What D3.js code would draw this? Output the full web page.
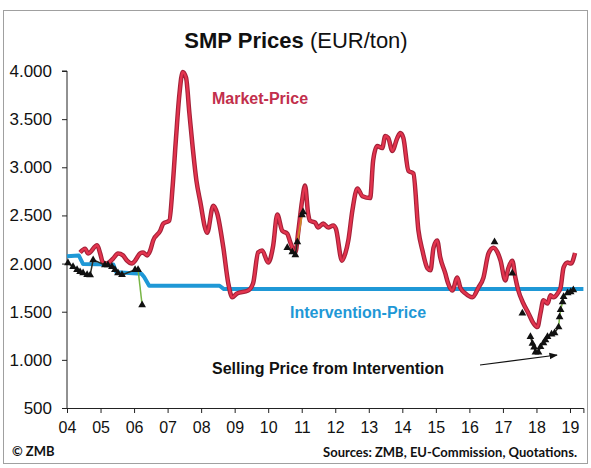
<!DOCTYPE html>
<html>
<head>
<meta charset="utf-8">
<script src="https://cdn.jsdelivr.net/npm/d3@7"></script>
<style>
  body { margin: 0; background: #fff; }
  svg { display: block; font-family: "Liberation Sans", Arial, sans-serif; }
</style>
</head>
<body>
<div class="chart"></div>
<script>
// DATA ------
const yearTicks = [2004, 2005, 2006, 2007, 2008, 2009, 2010, 2011, 2012, 2013, 2014, 2015, 2016, 2017, 2018, 2019];
const priceTicks = [500, 1000, 1500, 2000, 2500, 3000, 3500, 4000];

// market price (EUR/ton)
const marketYears = [2004.39, 2004.54, 2004.63, 2004.90, 2004.99, 2005.07, 2005.19, 2005.37, 2005.52, 2005.67, 2005.79, 2005.94,
  2006.03, 2006.18, 2006.27, 2006.39, 2006.48, 2006.57, 2006.78, 2006.87, 2007.05, 2007.15, 2007.25, 2007.35, 2007.45,
  2007.55, 2007.65, 2007.75, 2007.86, 2007.97, 2008.18, 2008.36, 2008.48, 2008.66, 2008.81, 2008.93, 2009.07, 2009.40,
  2009.55, 2009.70, 2009.82, 2010.00, 2010.15, 2010.27, 2010.42, 2010.57, 2010.66, 2010.81, 2010.90, 2011.01, 2011.10,
  2011.19, 2011.25, 2011.40, 2011.49, 2011.64, 2011.79, 2011.94, 2012.02, 2012.20, 2012.30, 2012.39, 2012.51, 2012.66,
  2012.81, 2013.04, 2013.13, 2013.25, 2013.40, 2013.49, 2013.58, 2013.70, 2013.85, 2013.94, 2014.03, 2014.18, 2014.33,
  2014.48, 2014.60, 2014.75, 2014.84, 2014.93, 2015.04, 2015.13, 2015.28, 2015.36, 2015.49, 2015.64, 2015.73, 2015.88,
  2016.09, 2016.27, 2016.42, 2016.57, 2016.72, 2016.84, 2016.93, 2017.07, 2017.16, 2017.28, 2017.37, 2017.46, 2017.61,
  2017.76, 2017.91, 2018.03, 2018.12, 2018.21, 2018.33, 2018.42, 2018.51, 2018.63, 2018.72, 2018.81, 2018.93, 2019.03, 2019.15];
const marketPrice = [2115, 2155, 2105, 2190, 2105, 2010, 2000, 2050, 2105, 2085, 2030, 2000,
  2030, 2105, 2115, 2085, 2135, 2240, 2340, 2415, 2445, 2800, 3300, 3750, 3990,
  3930, 3560, 3200, 2860, 2650, 2320, 2600, 2520, 2170, 1795, 1650, 1690, 1720,
  1795, 2115, 2135, 2010, 2190, 2510, 2340, 2310, 2220, 2115, 2340, 2650, 2810,
  2520, 2445, 2425, 2375, 2415, 2375, 2395, 2360, 2030, 2105, 2240, 2550, 2780,
  2700, 2680, 3070, 3220, 3200, 3325, 3305, 3170, 3305, 3355, 3305, 2965, 2935,
  2345, 2135, 1950, 1930, 2165, 2240, 2065, 1900, 1800, 1720, 1855, 1750, 1690,
  1650, 1750, 1855, 2105, 2165, 2115, 2030, 1825, 1950, 2030, 1855, 1720, 1585,
  1485, 1380, 1340, 1485, 1620, 1585, 1670, 1650, 1690, 1750, 1960, 2010, 2000, 2110];

// intervention price (EUR/ton)
const interventionYears = [2004.0, 2004.35, 2004.48, 2005.38, 2005.47, 2006.22, 2006.30, 2006.45, 2008.55, 2008.68, 2019.4];
const interventionPrice = [2075, 2085, 1995, 1990, 1910, 1895, 1860, 1770, 1770, 1735, 1735];

// selling price from intervention (triangles)
const sellEarlyYears = [2004.03, 2004.18, 2004.30, 2004.39, 2004.48, 2004.60, 2004.69, 2004.78, 2005.13, 2005.22, 2005.34,
  2005.43, 2005.52, 2005.64, 2006.03, 2006.12, 2006.24];
const sellEarlyPrice = [2005, 1966, 1935, 1914, 1903, 1883, 1880, 2038, 1986, 1986, 1966,
  1935, 1903, 1883, 1935, 1935, 1570];
const sell2011Years = [2010.57, 2010.72, 2010.81, 2010.87, 2011.01, 2011.04];
const sell2011Price = [2165, 2120, 2090, 2225, 2505, 2535];
const sell2017Years = [2016.75, 2017.28, 2017.58];
const sell2017Price = [2225, 1900, 1485];
const sell2018Years = [2017.82, 2017.88, 2017.93, 2017.97, 2018.06, 2018.12, 2018.21, 2018.27, 2018.33, 2018.45, 2018.54,
  2018.66, 2018.69, 2018.72, 2018.78, 2018.81, 2018.93, 2019.02, 2019.10];
const sell2018Price = [1240, 1170, 1130, 1080, 1080, 1135, 1175, 1205, 1240, 1265, 1280,
  1340, 1445, 1520, 1600, 1655, 1695, 1705, 1725];

const zip = (xs, vs) => xs.map((d, i) => ({year: d, value: vs[i]}));

// CHART ------
const width = 591, height = 468;
const svg = d3.select('.chart')
  .append('svg')
  .attr('width', width)
  .attr('height', height);

// frame
svg.append('rect')
  .attr('x', 3.5).attr('y', 10.5)
  .attr('width', 584).attr('height', 453)
  .attr('fill', 'none')
  .attr('stroke', '#a0a0a0');

const x = d3.scaleLinear().domain([2004, 2019.4]).range([67, 583.4]);
const y = d3.scaleLinear().domain([500, 4000]).range([408, 71]);

const deFormat = d3.formatLocale({decimal: ',', thousands: '.', grouping: [3], currency: ['', '€']}).format(',');

const xAxis = d3.axisBottom(x)
  .tickValues(yearTicks)
  .tickFormat(d => String(d).slice(2))
  .tickSize(5)
  .tickPadding(9);

const yAxis = d3.axisLeft(y)
  .tickValues(priceTicks)
  .tickFormat(deFormat)
  .tickSize(5)
  .tickPadding(10);

const gx = svg.append('g')
  .attr('class', 'axis x-axis')
  .attr('transform', `translate(0, ${y(500)})`)
  .call(xAxis);
gx.attr('font-size', 16).attr('font-family', null);

const gy = svg.append('g')
  .attr('class', 'axis y-axis')
  .attr('transform', `translate(${x(2004)}, 0)`)
  .call(yAxis);
gy.attr('font-size', 17).attr('font-family', null);
gy.select('.domain').attr('d', `M-5,${y(4000)}H0V${y(500)}`);

svg.selectAll('.axis path, .axis line').attr('stroke', '#222').attr('stroke-width', 1);
svg.selectAll('.axis text').attr('fill', '#111');

const line = d3.line()
  .x(d => x(d.year))
  .y(d => y(d.value));

// intervention price
svg.append('path')
  .datum(zip(interventionYears, interventionPrice))
  .attr('fill', 'none')
  .attr('stroke', '#1f98d6')
  .attr('stroke-width', 4)
  .attr('stroke-linejoin', 'round')
  .attr('d', line);

// market price, dark edge + bright core
const smooth = d3.line()
  .x(d => x(d.year))
  .y(d => y(d.value))
  .curve(d3.curveMonotoneX);
const market = zip(marketYears, marketPrice);
svg.append('path')
  .datum(market)
  .attr('fill', 'none')
  .attr('stroke', '#a32138')
  .attr('stroke-width', 4.5)
  .attr('stroke-linejoin', 'round')
  .attr('d', smooth);
svg.append('path')
  .datum(market)
  .attr('fill', 'none')
  .attr('stroke', '#e3344e')
  .attr('stroke-width', 2.4)
  .attr('stroke-linejoin', 'round')
  .attr('d', smooth);

// selling price connectors
const early = zip(sellEarlyYears, sellEarlyPrice);
const s2011 = zip(sell2011Years, sell2011Price);
const s2017 = zip(sell2017Years, sell2017Price);
const s2018 = zip(sell2018Years, sell2018Price);

svg.append('path').datum(early.slice(0, -1))
  .attr('fill', 'none').attr('stroke', '#2b2b20').attr('stroke-width', 1.5).attr('d', line);
svg.append('path').datum(early.slice(-2))
  .attr('fill', 'none').attr('stroke', '#78b545').attr('stroke-width', 1.5).attr('d', line);
svg.append('path').datum(s2011.slice(0, 4))
  .attr('fill', 'none').attr('stroke', '#2b2b20').attr('stroke-width', 1.5).attr('d', line);
svg.append('path').datum(s2011.slice(3))
  .attr('fill', 'none').attr('stroke', '#d08a2a').attr('stroke-width', 1.8).attr('d', line);
svg.append('path').datum(s2018.slice(0, 12))
  .attr('fill', 'none').attr('stroke', '#2b2b20').attr('stroke-width', 1.5).attr('d', line);
svg.append('path').datum(s2018.slice(11))
  .attr('fill', 'none').attr('stroke', '#78b545').attr('stroke-width', 1.5).attr('d', line);

const tri = d3.symbol().type(d3.symbolTriangle).size(26);
svg.selectAll('.sell')
  .data(early.concat(s2011, s2017, s2018))
  .join('path')
  .attr('class', 'sell')
  .attr('transform', d => `translate(${x(d.year)},${y(d.value)})`)
  .attr('fill', '#111')
  .attr('d', tri);

// titles & labels
const title = svg.append('text')
  .attr('x', 296).attr('y', 48)
  .attr('text-anchor', 'middle')
  .attr('font-size', 22)
  .attr('fill', '#111');
title.append('tspan').attr('font-weight', 'bold').text('SMP Prices ');
title.append('tspan').text('(EUR/ton)');

svg.append('text')
  .attr('x', 212).attr('y', 104)
  .attr('font-size', 16).attr('font-weight', 'bold')
  .attr('fill', '#c22f4c')
  .text('Market-Price');

svg.append('text')
  .attr('x', 290).attr('y', 318)
  .attr('font-size', 16).attr('font-weight', 'bold')
  .attr('fill', '#1f98d6')
  .text('Intervention-Price');

svg.append('text')
  .attr('x', 212).attr('y', 374)
  .attr('font-size', 16).attr('font-weight', 'bold')
  .attr('fill', '#111')
  .text('Selling Price from Intervention');

// arrow
svg.append('defs').append('marker')
  .attr('id', 'arrow')
  .attr('viewBox', '0 0 10 10')
  .attr('refX', 9).attr('refY', 5)
  .attr('markerWidth', 7).attr('markerHeight', 7)
  .attr('orient', 'auto')
  .append('path')
  .attr('d', 'M0,1L10,5L0,9z')
  .attr('fill', '#111');

svg.append('line')
  .attr('x1', 480).attr('y1', 365)
  .attr('x2', 557).attr('y2', 355)
  .attr('stroke', '#111')
  .attr('stroke-width', 1.2)
  .attr('marker-end', 'url(#arrow)');

// footer
svg.append('text')
  .attr('x', 12).attr('y', 456)
  .attr('font-family', 'Lato, "Open Sans", sans-serif')
  .attr('font-size', 13).attr('font-weight', 'bold')
  .attr('fill', '#111')
  .text('© ZMB');

svg.append('text')
  .attr('x', 577).attr('y', 457)
  .attr('text-anchor', 'end')
  .attr('font-family', 'Lato, "Open Sans", sans-serif')
  .attr('font-size', 13).attr('font-weight', 'bold')
  .attr('fill', '#111')
  .text('Sources: ZMB, EU-Commission, Quotations.');
</script>
</body>
</html>
